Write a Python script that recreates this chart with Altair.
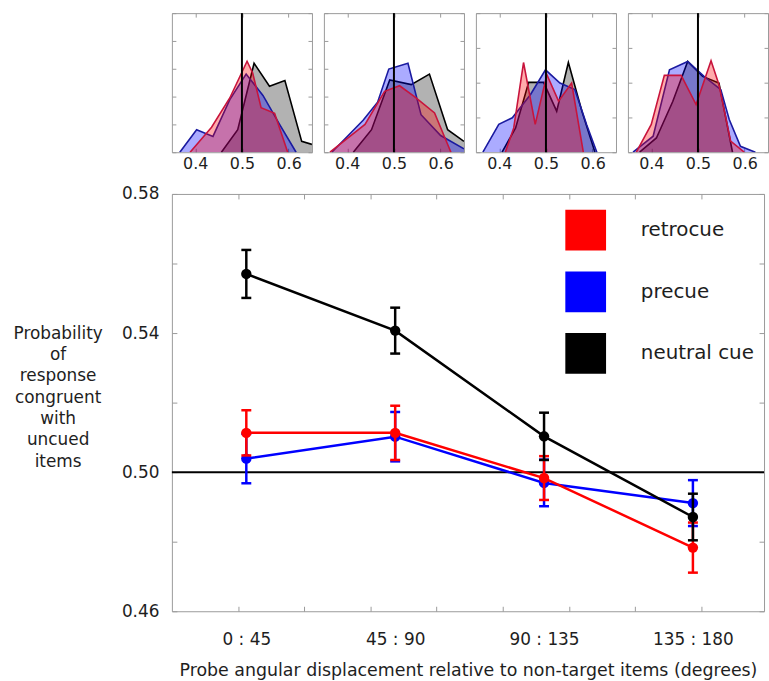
import altair as alt
import pandas as pd

# ---------------- main panel data ----------------
series_names = ["retrocue", "precue", "neutral cue"]
series_colors = ["#ff0000", "#0000ff", "#000000"]

bin_centers = [22.5, 67.5, 112.5, 157.5]
bin_labels = ["0 : 45", "45 : 90", "90 : 135", "135 : 180"]
x_minor_ticks = [20, 40, 60, 80, 100, 120, 140, 160]
y_ticks = [0.46, 0.48, 0.50, 0.52, 0.54, 0.56, 0.58]
y_tick_labels = ["0.46", "0.50", "0.54", "0.58"]

retro_mean = [0.5113, 0.5113, 0.4983, 0.4783]
retro_err = [0.0065, 0.0078, 0.0063, 0.0072]
pre_mean = [0.5039, 0.5102, 0.4969, 0.4911]
pre_err = [0.0071, 0.0071, 0.0067, 0.0066]
neutral_mean = [0.5570, 0.5407, 0.5103, 0.4871]
neutral_err = [0.0069, 0.0066, 0.0068, 0.0067]

chance_level = 0.50

y_title = ["Probability", "of", "response", "congruent", "with", "uncued", "items"]
x_title = "Probe angular displacement relative to non-target items (degrees)"

# ---------------- histogram panels data ----------------
hist_ticks = [0.4, 0.5, 0.6]
panel_ymax = [5, 5, 4, 4]

p1_retro_x = [0.389, 0.435, 0.474, 0.511, 0.523, 0.541, 0.570, 0.598]
p1_retro_y = [0, 0.90, 1.95, 3.27, 2.85, 1.60, 1.40, 0]
p1_pre_x = [0.367, 0.403, 0.438, 0.474, 0.509, 0.545, 0.580, 0.616]
p1_pre_y = [0, 0.81, 0.57, 1.89, 2.81, 2.04, 1.02, 0]
p1_neut_x = [0.456, 0.491, 0.526, 0.559, 0.592, 0.628, 0.650]
p1_neut_y = [0, 0.81, 3.20, 2.37, 2.58, 0.39, 0.28]

p2_retro_x = [0.363, 0.438, 0.480, 0.512, 0.544, 0.587, 0.622]
p2_retro_y = [0, 1.00, 2.19, 2.39, 2.00, 1.41, 0]
p2_pre_x = [0.367, 0.434, 0.465, 0.489, 0.530, 0.558, 0.600, 0.650]
p2_pre_y = [0, 1.15, 1.80, 2.99, 3.20, 1.35, 0.60, 0.12]
p2_neut_x = [0.413, 0.452, 0.491, 0.537, 0.576, 0.615, 0.650]
p2_neut_y = [0, 0.81, 2.60, 2.43, 2.81, 0.81, 0.39]

p3_retro_x = [0.413, 0.431, 0.452, 0.477, 0.502, 0.527, 0.555, 0.580]
p3_retro_y = [0, 0.70, 2.58, 0.80, 2.23, 1.47, 1.99, 0]
p3_pre_x = [0.365, 0.399, 0.428, 0.467, 0.499, 0.530, 0.562, 0.587, 0.609]
p3_pre_y = [0, 0.80, 0.99, 1.66, 2.37, 1.99, 1.80, 0.80, 0]
p3_neut_x = [0.406, 0.435, 0.463, 0.495, 0.523, 0.548, 0.577, 0.605]
p3_neut_y = [0, 0.70, 2.01, 2.01, 1.18, 2.58, 1.18, 0]

p4_retro_x = [0.368, 0.400, 0.428, 0.464, 0.496, 0.528, 0.545, 0.570, 0.599]
p4_retro_y = [0, 0.80, 2.21, 2.21, 1.37, 2.63, 1.94, 0.32, 0]
p4_pre_x = [0.361, 0.404, 0.439, 0.478, 0.513, 0.549, 0.567, 0.591, 0.623]
p4_pre_y = [0, 0.46, 2.37, 2.61, 2.18, 1.80, 0.94, 0.17, 0]
p4_neut_x = [0.375, 0.411, 0.446, 0.478, 0.510, 0.545, 0.574]
p4_neut_y = [0, 0.41, 1.46, 2.61, 2.18, 1.99, 0]

FONT = "DejaVu Sans"
FRAME = "#9a9a9a"
TEXT = "#1e1e1e"

# ---------------- main chart ----------------
rows = []
for name, means, errs in [("retrocue", retro_mean, retro_err),
                          ("precue", pre_mean, pre_err),
                          ("neutral cue", neutral_mean, neutral_err)]:
    for xc, m, e in zip(bin_centers, means, errs):
        rows.append({"series": name, "x": xc, "mean": m, "lo": m - e, "hi": m + e})
main_df = pd.DataFrame(rows)
color_of = dict(zip(series_names, series_colors))

xscale = alt.Scale(domain=[0, 179], nice=False, zero=False)
yscale = alt.Scale(domain=[0.46, 0.58], nice=False, zero=False)
cscale = alt.Scale(domain=series_names, range=series_colors)

label_expr = ""
for v, lab in zip(bin_centers, bin_labels):
    label_expr += f"datum.value == {v} ? '{lab}' : "
label_expr += "''"

y_label_expr = ""
for s in y_tick_labels:
    y_label_expr += f"format(datum.value, '.2f') == '{s}' ? '{s}' : "
y_label_expr += "''"

x_axis = alt.Axis(
    values=sorted(x_minor_ticks + bin_centers), labelExpr=label_expr,
    offset=-5, tickSize=5,
    tickOpacity={"condition": {"test": "datum.value % 20 == 0", "value": 1}, "value": 0},
    labelFontSize=17, labelPadding=20, labelOverlap=False, labelFlush=False,
    title=x_title, titleFontSize=17.5, titleFontWeight="normal", titlePadding=15,
    domain=False, grid=False, tickColor=FRAME, labelColor=TEXT, titleColor=TEXT,
)
y_axis = alt.Axis(
    values=y_ticks, labelExpr=y_label_expr, offset=-5, tickSize=5,
    labelFontSize=17, labelPadding=13, labelOverlap=False, labelFlush=False,
    title=y_title, titleAngle=0, titleAlign="center", titleBaseline="top",
    titleX=-120, titleY=132, titleLineHeight=21.5, titleFontSize=17,
    titleFontWeight="normal", titleColor=TEXT,
    domain=False, grid=False, tickColor=FRAME, labelColor=TEXT,
)

legend = alt.Legend(orient="none", legendX=396, legendY=198, title=None,
                    symbolType="square", symbolSize=1681, symbolStrokeWidth=0,
                    symbolOpacity=1, labelFontSize=20, labelOffset=35,
                    rowPadding=21, padding=0, labelColor=TEXT, labelFont=FONT)


def X(field):
    return alt.X(field, type="quantitative", scale=xscale, axis=x_axis)


def Y(field):
    return alt.Y(field, type="quantitative", scale=yscale, axis=y_axis)


base = alt.Chart(main_df)

hline = alt.Chart(pd.DataFrame({"y": [chance_level]})).mark_rule(
    color="black", strokeWidth=2
).encode(y=Y("y"))

inner_layers = [hline]
for name in ["precue", "retrocue", "neutral cue"]:
    b = base.transform_filter(alt.datum.series == name)
    c = color_of[name]
    rule = b.mark_rule(strokeWidth=2.5, color=c).encode(x=X("x"), y=Y("lo"), y2="hi:Q")
    cap_lo = b.mark_tick(orient="horizontal", size=10, thickness=2.5, color=c,
                         opacity=1).encode(x=X("x"), y=Y("lo"))
    cap_hi = b.mark_tick(orient="horizontal", size=10, thickness=2.5, color=c,
                         opacity=1).encode(x=X("x"), y=Y("hi"))
    line = b.mark_line(strokeWidth=2.5, color=c).encode(x=X("x"), y=Y("mean"))
    pts = b.mark_point(filled=True, size=110, opacity=1).encode(
        x=X("x"), y=Y("mean"),
        color=alt.Color("series:N", scale=cscale, legend=legend))
    inner_layers += [rule, cap_lo, cap_hi, line, pts]

inner = alt.layer(*inner_layers)

mirror = base.mark_point(opacity=0).encode(
    x=alt.X("x:Q", scale=xscale, axis=alt.Axis(
        orient="top", values=x_minor_ticks, labels=False, offset=-5, tickSize=5,
        title=None, domain=False, grid=False, tickColor=FRAME)),
    y=alt.Y("mean:Q", scale=yscale, axis=alt.Axis(
        orient="right", values=y_ticks, labels=False, offset=-5, tickSize=5,
        title=None, domain=False, grid=False, tickColor=FRAME)),
)

main = alt.layer(inner, mirror).resolve_axis(x="independent", y="independent").properties(
    width=596, height=420)

# ---------------- histogram panels ----------------
panels_data = [
    (p1_retro_x, p1_retro_y, p1_pre_x, p1_pre_y, p1_neut_x, p1_neut_y),
    (p2_retro_x, p2_retro_y, p2_pre_x, p2_pre_y, p2_neut_x, p2_neut_y),
    (p3_retro_x, p3_retro_y, p3_pre_x, p3_pre_y, p3_neut_x, p3_neut_y),
    (p4_retro_x, p4_retro_y, p4_pre_x, p4_pre_y, p4_neut_x, p4_neut_y),
]

hx = alt.Scale(domain=[0.35, 0.65], nice=False, zero=False)

styles = {
    "neutral cue": ("#000000", 0.30, "#000000"),
    "precue": ("#0000ff", 0.33, "#1a1aa0"),
    "retrocue": ("#ff0000", 0.33, "#c8143c"),
}

hx_axis = alt.Axis(values=hist_ticks, format=".1f", offset=-4, tickSize=4,
                   labelFontSize=16, labelPadding=3, title=None, domain=False,
                   grid=False, tickColor=FRAME, labelColor=TEXT, labelFlush=False)

panels = []
for (rx, ry, px, py, nx, ny), ymax in zip(panels_data, panel_ymax):
    hy = alt.Scale(domain=[0, ymax], nice=False, zero=True)
    yt = list(range(0, ymax + 1))
    hy_axis = alt.Axis(values=yt, labels=False, offset=-4, tickSize=4, title=None,
                       domain=False, grid=False, tickColor=FRAME)
    HX = alt.X("x:Q", scale=hx, axis=hx_axis)
    HY = alt.Y("y:Q", scale=hy, axis=hy_axis)
    layers = []
    for name, xs, ys in [("neutral cue", nx, ny), ("precue", px, py), ("retrocue", rx, ry)]:
        df = pd.DataFrame({"x": xs, "y": ys})
        fill, op, stroke = styles[name]
        area = alt.Chart(df).mark_area(color=fill, opacity=op, clip=True).encode(x=HX, y=HY)
        ln = alt.Chart(df).mark_line(color=stroke, strokeWidth=1.6, clip=True).encode(x=HX, y=HY)
        layers += [area, ln]
    vline = alt.Chart(pd.DataFrame({"x": [0.5]})).mark_rule(
        color="black", strokeWidth=2).encode(x=HX)
    layers.append(vline)
    pin = alt.layer(*layers)
    mdf = pd.DataFrame({"x": hist_ticks, "y": [0, 0, 0]})
    pm = alt.Chart(mdf).mark_point(opacity=0).encode(
        x=alt.X("x:Q", scale=hx, axis=alt.Axis(orient="top", values=hist_ticks, labels=False,
                                               offset=-4, tickSize=4, title=None, domain=False,
                                               grid=False, tickColor=FRAME)),
        y=alt.Y("y:Q", scale=hy, axis=alt.Axis(orient="right", values=yt, labels=False,
                                               offset=-4, tickSize=4, title=None, domain=False,
                                               grid=False, tickColor=FRAME)),
    )
    panels.append(alt.layer(pin, pm).resolve_axis(x="independent", y="independent").properties(
        width=141, height=140))

top_row = alt.hconcat(*panels, spacing=10)

chart = alt.vconcat(top_row, main, spacing=12).properties(
    padding={"left": 12, "top": 9, "right": 0, "bottom": 0}
).configure(font=FONT, background="white").configure_view(
    stroke=FRAME, strokeWidth=1
)

chart.save("out.html", embed_options={"renderer": "svg", "actions": False})
